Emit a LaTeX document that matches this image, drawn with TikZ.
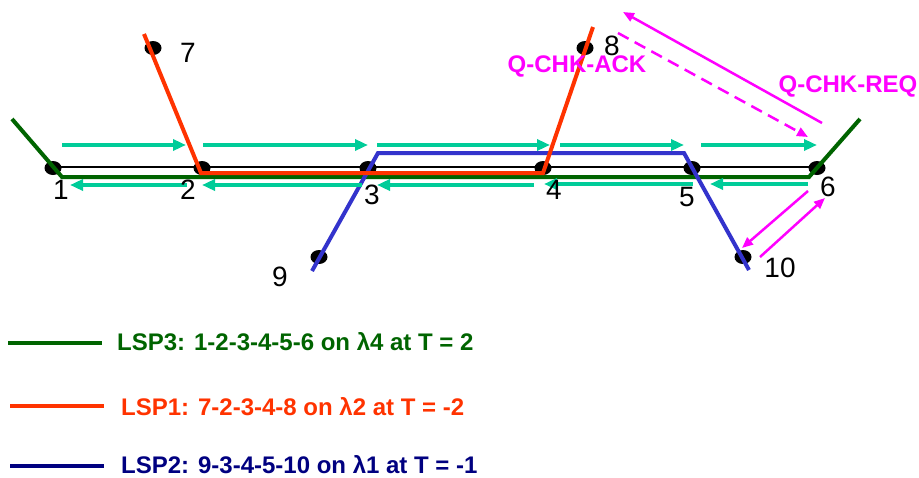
\documentclass[tikz,border=0pt]{standalone}
\usepackage{fontspec}
\setmainfont{Liberation Sans}
\usetikzlibrary{arrows.meta,shapes.geometric}
\definecolor{lspgreen}{RGB}{0,100,0}
\definecolor{lspred}{RGB}{255,51,0}
\definecolor{lspblue}{RGB}{51,51,204}
\definecolor{lspnavy}{RGB}{0,0,128}
\definecolor{teal2}{RGB}{0,204,153}
\definecolor{mag}{RGB}{255,0,255}
\begin{document}
\begin{tikzpicture}[x=1pt,y=-1pt,
  dot/.style={ellipse,fill=black,minimum width=17pt,minimum height=14pt,inner sep=0pt},
  num/.style={inner sep=0pt,font=\fontsize{28}{30}\selectfont},
  flow/.style={teal2,line width=4pt,-{Triangle[length=13pt,width=11pt]}},
  sig/.style={mag,line width=2.5pt,-{Triangle[length=11pt,width=9pt]}},
  siglab/.style={mag,inner sep=0pt,anchor=base,font=\fontsize{24}{26}\selectfont\bfseries},
  legtxt/.style={inner sep=0pt,anchor=base west,font=\fontsize{24}{26}\selectfont\bfseries},
  lsp/.style={line width=4pt,line join=miter}]
\useasboundingbox (0,0) rectangle (919,477);
% link
\coordinate (b1) at (53,167);
\coordinate (b6) at (817,167);
\draw[line width=2pt] (b1) -- (b6);
% dots
\node[dot] (n1) at (53,168) {};
\node[dot] (n2) at (202,168) {};
\node[dot] (n3) at (368,168) {};
\node[dot] (n4) at (543,168) {};
\node[dot] (n5) at (692,168) {};
\node[dot] (n6) at (817,168) {};
\node[dot] (n7) at (153,48) {};
\node[dot] (n8) at (585,48) {};
\node[dot] (n9) at (319,257) {};
\node[dot] (n10) at (743,257) {};
% LSP3 green
\coordinate (g0) at (12,119);
\coordinate (g1) at (62,177);
\coordinate (g2) at (809,177);
\coordinate (g3) at (860,119);
\draw[lsp,lspgreen] (g0) -- (g1) -- (g2) -- (g3);
% LSP2 blue
\coordinate (u0) at (312,271);
\coordinate (u1) at (378,153);
\coordinate (u2) at (684,153);
\coordinate (u3) at (749,270);
\draw[lsp,lspblue] (u0) -- (u1) -- (u2) -- (u3);
% LSP1 red
\coordinate (r0) at (144,34);
\coordinate (r1) at (201,173);
\coordinate (r2) at (543,173);
\coordinate (r3) at (593,27);
\draw[lsp,lspred] (r0) -- (r1) -- (r2) -- (r3);
% teal flows top
\coordinate (t1a) at (62,145); \coordinate (t1b) at (186,145);
\coordinate (t2a) at (203,145); \coordinate (t2b) at (368,145);
\coordinate (t3a) at (377,145); \coordinate (t3b) at (550,145);
\coordinate (t4a) at (560,145); \coordinate (t4b) at (684,145);
\coordinate (t5a) at (701,145); \coordinate (t5b) at (817,145);
\draw[flow] (t1a) -- (t1b);
\draw[flow] (t2a) -- (t2b);
\draw[flow] (t3a) -- (t3b);
\draw[flow] (t4a) -- (t4b);
\draw[flow] (t5a) -- (t5b);
% teal flows bottom
\coordinate (s1a) at (187,185); \coordinate (s1b) at (70,185);
\coordinate (s2a) at (362,185); \coordinate (s2b) at (202,185);
\coordinate (s3a) at (534,185); \coordinate (s3b) at (377,185);
\coordinate (s4a) at (693,184); \coordinate (s4b) at (544,184);
\coordinate (s5a) at (808,184); \coordinate (s5b) at (710,184);
\draw[flow] (s1a) -- (s1b);
\draw[flow] (s2a) -- (s2b);
\draw[flow] (s3a) -- (s3b);
\draw[flow] (s4a) -- (s4b);
\draw[flow] (s5a) -- (s5b);
% magenta signalling
\coordinate (m1a) at (822,123); \coordinate (m1b) at (623,12);
\coordinate (m2a) at (618,33); \coordinate (m2b) at (808,137);
\coordinate (m3a) at (808,191); \coordinate (m3b) at (742,248);
\coordinate (m4a) at (760,257); \coordinate (m4b) at (825,198);
\draw[sig] (m1a) -- (m1b);
\draw[sig,dash pattern=on 12pt off 7pt] (m2a) -- (m2b);
\draw[sig] (m3a) -- (m3b);
\draw[sig] (m4a) -- (m4b);
\node[siglab] (ack) at (577,72) {Q-CHK-ACK};
\node[siglab] (req) at (848,92) {Q-CHK-REQ};
% number labels
\node[num] (l1) at (61,190) {1};
\node[num] (l2) at (188,190) {2};
\node[num] (l3) at (372,195) {3};
\node[num] (l4) at (554,190) {4};
\node[num] (l5) at (687,197) {5};
\node[num] (l6) at (828,187) {6};
\node[num] (l7) at (188,53) {7};
\node[num] (l8) at (612,46) {8};
\node[num] (l9) at (280,277) {9};
\node[num] (l10) at (780,268) {10};
% legend
\coordinate (k1a) at (8,343); \coordinate (k1b) at (102,343);
\coordinate (k2a) at (10,406); \coordinate (k2b) at (104,406);
\coordinate (k3a) at (10,466); \coordinate (k3b) at (104,466);
\draw[line width=4pt,lspgreen] (k1a) -- (k1b);
\draw[line width=4pt,lspred] (k2a) -- (k2b);
\draw[line width=4pt,lspnavy] (k3a) -- (k3b);
\node[legtxt,lspgreen] (t1) at (117,350) {LSP3: 1-2-3-4-5-6 on λ4 at T = 2};
\node[legtxt,lspred] (t2) at (121,415) {LSP1: 7-2-3-4-8 on λ2 at T = -2};
\node[legtxt,lspnavy] (t3) at (121,473) {LSP2: 9-3-4-5-10 on λ1 at T = -1};
\end{tikzpicture}
\end{document}
